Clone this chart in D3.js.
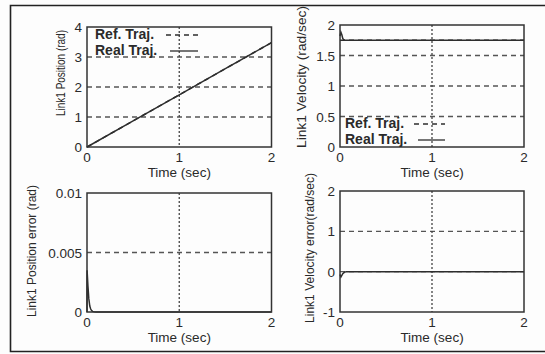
<!DOCTYPE html>
<html>
<head>
<meta charset="utf-8">
<script src="https://cdn.jsdelivr.net/npm/d3@7"></script>
<style>
  html, body { margin: 0; padding: 0; background: #fdfdfd; }
  svg { display: block; }
  text { font-family: "Liberation Sans", Arial, sans-serif; fill: #2a2a2a; }
</style>
</head>
<body>
<svg id="chart" width="545" height="354"></svg>
<script>
// ---- data -------------------------------------------------------------
const timeTicks = [0, 1, 2];
const timeTickLabels = ["0", "1", "2"];

// Link1 position (rad)
const posTime = [0, 0.5, 1, 1.5, 2];
const refPosition = [0, 0.87, 1.74, 2.61, 3.48];
const realPosition = [0, 0.87, 1.74, 2.61, 3.48];
const posTicks = [0, 1, 2, 3, 4];
const posTickLabels = ["0", "1", "2", "3", "4"];

// Link1 velocity (rad/sec)
const velTime = [0, 0.01, 0.02, 0.03, 0.04, 0.05, 0.07, 0.1, 0.5, 1, 1.5, 2];
const refVelocity = [1.75, 1.75, 1.75, 1.75, 1.75, 1.75, 1.75, 1.75, 1.75, 1.75, 1.75, 1.75];
const realVelocity = [1.82, 1.88, 1.84, 1.78, 1.76, 1.75, 1.75, 1.75, 1.75, 1.75, 1.75, 1.75];
const velTicks = [0, 0.5, 1, 1.5, 2];
const velTickLabels = ["0", "0.5", "1", "1.5", "2"];

// Link1 position error (rad)
const errTime = [0, 0.001, 0.01, 0.02, 0.03, 0.04, 0.05, 0.06, 0.08, 0.1, 1, 2];
const positionError = [0, 0.0035, 0.0022, 0.0011, 0.0005, 0.00025, 0.00012, 0.00005, 0.00001, 0, 0, 0];
const posErrTicks = [0, 0.005, 0.01];
const posErrTickLabels = ["0", "0.005", "0.01"];

// Link1 velocity error (rad/sec)
const velErrTime = [0, 0.01, 0.02, 0.03, 0.04, 0.05, 0.07, 0.1, 0.5, 1, 1.5, 2];
const velocityError = [-0.07, -0.13, -0.09, -0.05, -0.03, -0.01, 0, 0, 0, 0, 0, 0];
const velErrTicks = [-1, 0, 1, 2];
const velErrTickLabels = ["-1", "0", "1", "2"];

const legendLabels = ["Ref. Traj.", "Real Traj."];

// ---- drawing ----------------------------------------------------------
const svg = d3.select("#chart");
const ink = "#2e2e2e";

// outer frame
svg.append("path")
  .attr("d", "M545,5.5 H10.5 V351.5 H545")
  .attr("fill", "none").attr("stroke", "#222").attr("stroke-width", 1.6);

function panel(cfg) {
  const x = d3.scaleLinear().domain([0, 2]).range([cfg.left, cfg.right]);
  const y = d3.scaleLinear().domain(cfg.domain).range([cfg.bottom, cfg.top]);
  const g = svg.append("g");

  // horizontal dashed grid at interior ticks
  const inner = cfg.ticks.filter(v => v > cfg.domain[0] && v < cfg.domain[1]);
  g.selectAll(".hgrid").data(inner).join("line")
    .attr("x1", cfg.left).attr("x2", cfg.right)
    .attr("y1", d => y(d)).attr("y2", d => y(d))
    .attr("stroke", "#555").attr("stroke-width", 1.3)
    .attr("stroke-dasharray", "5,4");

  // vertical dotted grid at t = 1
  g.selectAll(".vgrid").data(timeTicks.filter(t => t > 0 && t < 2)).join("line")
    .attr("x1", d => x(d)).attr("x2", d => x(d))
    .attr("y1", cfg.top).attr("y2", cfg.bottom)
    .attr("stroke", "#444").attr("stroke-width", 1.3)
    .attr("stroke-dasharray", "2,2");

  // series
  cfg.series.forEach(s => {
    const line = d3.line().x((d, i) => x(s.t[i])).y(d => y(d));
    g.append("path").datum(s.v)
      .attr("d", line)
      .attr("fill", "none")
      .attr("stroke", ink)
      .attr("stroke-width", 1.5)
      .attr("stroke-dasharray", s.dash || null);
  });

  // frame
  g.append("rect")
    .attr("x", cfg.left).attr("y", cfg.top)
    .attr("width", cfg.right - cfg.left).attr("height", cfg.bottom - cfg.top)
    .attr("fill", "none").attr("stroke", "#333").attr("stroke-width", 1.5);

  // y tick labels
  g.selectAll(".ylab").data(cfg.ticks).join("text")
    .attr("x", cfg.left - 5)
    .attr("y", d => y(d) + 5)
    .attr("text-anchor", "end")
    .attr("font-size", 13.5)
    .text((d, i) => cfg.tickLabels[i]);

  // x tick labels
  g.selectAll(".xlab").data(timeTicks).join("text")
    .attr("x", d => x(d))
    .attr("y", cfg.bottom + 15)
    .attr("text-anchor", "middle")
    .attr("font-size", 13.5)
    .text((d, i) => timeTickLabels[i]);

  // x title
  g.append("text")
    .attr("x", (cfg.left + cfg.right) / 2)
    .attr("y", cfg.bottom + 30)
    .attr("text-anchor", "middle")
    .attr("font-size", 13.5)
    .text("Time (sec)");

  // y title
  g.append("text")
    .attr("transform", `translate(${cfg.titleX},${cfg.titleY}) rotate(-90)`)
    .attr("text-anchor", "middle")
    .attr("font-size", 13)
    .attr("textLength", cfg.titleLen)
    .attr("lengthAdjust", "spacingAndGlyphs")
    .text(cfg.title);

  // legend
  if (cfg.legend) {
    const L = cfg.legend;
    legendLabels.forEach((lab, i) => {
      const by = L.y + i * 16;
      g.append("text")
        .attr("x", L.x).attr("y", by)
        .attr("font-size", 14).attr("font-weight", "bold")
        .text(lab);
      g.append("line")
        .attr("x1", L.lx1 + (i ? 4 : 0)).attr("x2", L.lx2)
        .attr("y1", by - 4).attr("y2", by - 4)
        .attr("stroke", ink).attr("stroke-width", 1.3)
        .attr("stroke-dasharray", i === 0 ? "5,4" : null);
    });
  }
}

panel({
  left: 87, right: 271.5, top: 27, bottom: 147,
  domain: [0, 4], ticks: posTicks, tickLabels: posTickLabels,
  title: "Link1  Position (rad)", titleX: 65, titleY: 73, titleLen: 86,
  series: [
    { t: posTime, v: refPosition, dash: "5,4" },
    { t: posTime, v: realPosition }
  ],
  legend: { x: 95, y: 39, lx1: 166, lx2: 198 }
});

panel({
  left: 340, right: 524, top: 25, bottom: 147,
  domain: [0, 2], ticks: velTicks, tickLabels: velTickLabels,
  title: "Link1  Velocity (rad/sec)", titleX: 306, titleY: 77, titleLen: 142,
  series: [
    { t: velTime, v: refVelocity, dash: "5,4" },
    { t: velTime, v: realVelocity }
  ],
  legend: { x: 345, y: 128, lx1: 414, lx2: 445 }
});

panel({
  left: 87, right: 271.5, top: 193, bottom: 312,
  domain: [0, 0.01], ticks: posErrTicks, tickLabels: posErrTickLabels,
  title: "Link1 Position error (rad)", titleX: 36, titleY: 251, titleLen: 132,
  series: [ { t: errTime, v: positionError } ]
});

panel({
  left: 340, right: 524, top: 191, bottom: 312,
  domain: [-1, 2], ticks: velErrTicks, tickLabels: velErrTickLabels,
  title: "Link1 Velocity error(rad/sec)", titleX: 314, titleY: 248, titleLen: 150,
  series: [ { t: velErrTime, v: velocityError } ]
});
</script>
</body>
</html>
